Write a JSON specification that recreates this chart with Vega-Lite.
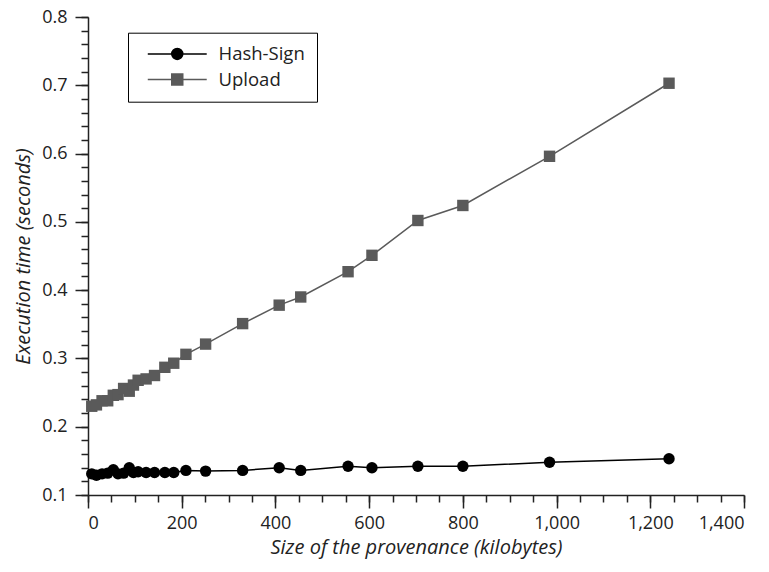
{
  "$schema": "https://vega.github.io/schema/vega-lite/v6.json",
  "width": 656,
  "height": 478,
  "autosize": {"type": "none"},
  "padding": {"left": 88, "top": 17, "right": 25, "bottom": 77},
  "config": {
    "view": {"stroke": null},
    "font": "Open Sans",
    "axis": {"domainColor": "#222", "tickColor": "#222", "labelColor": "#222", "titleColor": "#222", "domainWidth": 1.5, "tickWidth": 1.5, "grid": false, "labelFont": "Open Sans", "titleFont": "Open Sans"}
  },
  "data": {
    "values": [
      {"size": 8, "series": "Hash-Sign", "time": 0.131},
      {"size": 18, "series": "Hash-Sign", "time": 0.129},
      {"size": 30, "series": "Hash-Sign", "time": 0.131},
      {"size": 42, "series": "Hash-Sign", "time": 0.132},
      {"size": 54, "series": "Hash-Sign", "time": 0.137},
      {"size": 64, "series": "Hash-Sign", "time": 0.131},
      {"size": 76, "series": "Hash-Sign", "time": 0.132},
      {"size": 88, "series": "Hash-Sign", "time": 0.140},
      {"size": 97, "series": "Hash-Sign", "time": 0.133},
      {"size": 107, "series": "Hash-Sign", "time": 0.134},
      {"size": 124, "series": "Hash-Sign", "time": 0.133},
      {"size": 142, "series": "Hash-Sign", "time": 0.133},
      {"size": 164, "series": "Hash-Sign", "time": 0.133},
      {"size": 183, "series": "Hash-Sign", "time": 0.133},
      {"size": 209, "series": "Hash-Sign", "time": 0.136},
      {"size": 251, "series": "Hash-Sign", "time": 0.135},
      {"size": 330, "series": "Hash-Sign", "time": 0.136},
      {"size": 408, "series": "Hash-Sign", "time": 0.140},
      {"size": 454, "series": "Hash-Sign", "time": 0.136},
      {"size": 555, "series": "Hash-Sign", "time": 0.142},
      {"size": 606, "series": "Hash-Sign", "time": 0.140},
      {"size": 704, "series": "Hash-Sign", "time": 0.142},
      {"size": 800, "series": "Hash-Sign", "time": 0.142},
      {"size": 985, "series": "Hash-Sign", "time": 0.148},
      {"size": 1240, "series": "Hash-Sign", "time": 0.153},
      {"size": 8, "series": "Upload", "time": 0.230},
      {"size": 18, "series": "Upload", "time": 0.232},
      {"size": 30, "series": "Upload", "time": 0.238},
      {"size": 42, "series": "Upload", "time": 0.238},
      {"size": 54, "series": "Upload", "time": 0.246},
      {"size": 64, "series": "Upload", "time": 0.247},
      {"size": 76, "series": "Upload", "time": 0.256},
      {"size": 88, "series": "Upload", "time": 0.252},
      {"size": 97, "series": "Upload", "time": 0.261},
      {"size": 107, "series": "Upload", "time": 0.268},
      {"size": 124, "series": "Upload", "time": 0.270},
      {"size": 142, "series": "Upload", "time": 0.275},
      {"size": 164, "series": "Upload", "time": 0.287},
      {"size": 183, "series": "Upload", "time": 0.293},
      {"size": 209, "series": "Upload", "time": 0.306},
      {"size": 251, "series": "Upload", "time": 0.321},
      {"size": 330, "series": "Upload", "time": 0.351},
      {"size": 408, "series": "Upload", "time": 0.378},
      {"size": 454, "series": "Upload", "time": 0.390},
      {"size": 555, "series": "Upload", "time": 0.427},
      {"size": 606, "series": "Upload", "time": 0.451},
      {"size": 704, "series": "Upload", "time": 0.502},
      {"size": 800, "series": "Upload", "time": 0.524},
      {"size": 985, "series": "Upload", "time": 0.596},
      {"size": 1240, "series": "Upload", "time": 0.703}
    ]
  },
  "resolve": {"axis": {"x": "independent", "y": "independent"}},
  "layer": [
    {
      "transform": [{"filter": "datum.series == 'Hash-Sign'"}],
      "mark": {"type": "line", "strokeWidth": 1.5, "color": "#000000"},
      "encoding": {
        "x": {"field": "size", "type": "quantitative", "scale": {"domain": [0, 1400], "nice": false},
          "axis": {"orient": "bottom", "values": [0,50,100,150,200,250,300,350,400,450,500,550,600,650,700,750,800,850,900,950,1000,1050,1100,1150,1200,1250,1300,1350,1400], "labels": false, "domain": false, "tickSize": 7, "title": null}},
        "y": {"field": "time", "type": "quantitative", "scale": {"domain": [0.1, 0.8], "nice": false, "zero": false},
          "axis": {"orient": "left", "values": [0.1,0.12,0.14,0.16,0.18,0.2,0.22,0.24,0.26,0.28,0.3,0.32,0.34,0.36,0.38,0.4,0.42,0.44,0.46,0.48,0.5,0.52,0.54,0.56,0.58,0.6,0.62,0.64,0.66,0.68,0.7,0.72,0.74,0.76,0.78,0.8], "labels": false, "domain": false, "tickSize": 7, "title": null}}
      }
    },
    {
      "transform": [{"filter": "datum.series == 'Upload'"}],
      "mark": {"type": "line", "strokeWidth": 1.5, "color": "#5a5a5a"},
      "encoding": {
        "x": {"field": "size", "type": "quantitative", "axis": null},
        "y": {"field": "time", "type": "quantitative", "axis": null}
      }
    },
    {
      "transform": [{"filter": "datum.series == 'Hash-Sign'"}],
      "mark": {"type": "point", "filled": true, "opacity": 1, "shape": "circle", "color": "#000000", "size": 130},
      "encoding": {
        "x": {"field": "size", "type": "quantitative",
          "axis": {"orient": "bottom", "values": [0,200,400,600,800,1000,1200,1400], "format": ",d", "tickSize": 13, "labelPadding": 6, "labelFontSize": 18, "title": "Size of the provenance (kilobytes)", "titleFontSize": 20, "titleFontStyle": "italic", "titleFontWeight": "normal", "titlePadding": 5}},
        "y": {"field": "time", "type": "quantitative",
          "axis": {"orient": "left", "values": [0.1,0.2,0.3,0.4,0.5,0.6,0.7,0.8], "format": ".1f", "tickSize": 13, "labelPadding": 8, "labelFontSize": 18, "title": "Execution time (seconds)", "titleFontSize": 20, "titleFontStyle": "italic", "titleFontWeight": "normal", "titlePadding": 8}}
      }
    },
    {
      "transform": [{"filter": "datum.series == 'Upload'"}],
      "mark": {"type": "point", "filled": true, "opacity": 1, "shape": "square", "color": "#5a5a5a", "size": 130},
      "encoding": {
        "x": {"field": "size", "type": "quantitative", "axis": null},
        "y": {"field": "time", "type": "quantitative", "axis": null}
      }
    },
    {
      "mark": {"type": "point", "size": 0, "opacity": 1, "strokeWidth": 1.5},
      "encoding": {
        "x": {"field": "size", "type": "quantitative", "axis": null},
        "y": {"field": "time", "type": "quantitative", "axis": null},
        "fill": {"field": "series", "type": "nominal", "scale": {"domain": ["Hash-Sign", "Upload"], "range": ["#000000", "#5a5a5a"]},
          "legend": {"title": null, "orient": "none", "legendX": 40, "legendY": 15.7, "strokeColor": "#000000", "padding": 12, "labelFontSize": 18.5, "labelColor": "#222", "labelOffset": 32, "symbolOffset": 28, "symbolSize": 121, "symbolStrokeWidth": 1.5, "rowPadding": 6.6}},
        "stroke": {"field": "series", "type": "nominal", "scale": {"domain": ["Hash-Sign", "Upload"], "range": ["#000000", "#5a5a5a"]},
          "legend": {"title": null, "orient": "none", "legendX": 40, "legendY": 15.7}},
        "shape": {"field": "series", "type": "nominal", "scale": {"domain": ["Hash-Sign", "Upload"], "range": ["M-5.36,0H5.36M1,0A1,1,0,1,1,-1,0A1,1,0,1,1,1,0Z", "M-5.36,0H5.36M-1,-1H1V1H-1Z"]},
          "legend": {"title": null, "orient": "none", "legendX": 40, "legendY": 15.7}}
      }
    }
  ]
}
